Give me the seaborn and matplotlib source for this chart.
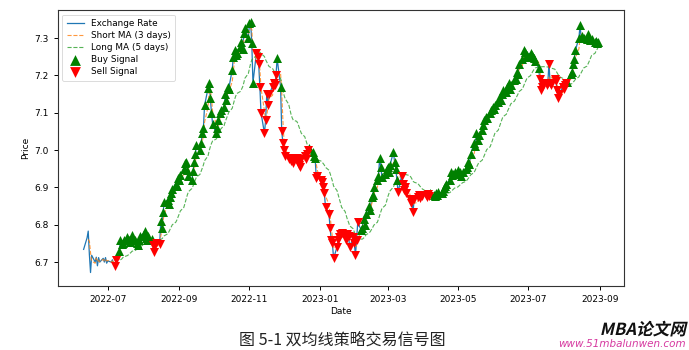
import matplotlib
matplotlib.use("Agg")
import matplotlib.pyplot as plt
import matplotlib.dates as mdates
from matplotlib.font_manager import FontProperties
from matplotlib.patches import PathPatch
from matplotlib.textpath import TextPath
from matplotlib.transforms import Affine2D
import pandas as pd
import seaborn as sns

# Daily closing exchange rate, one list per month (business days)
rate_2022_06 = [6.734, 6.765, 6.783, 6.720, 6.672, 6.718, 6.700, 6.713, 6.690, 6.712,
                6.700, 6.710, 6.700, 6.712, 6.697]
rate_2022_07 = [6.703, 6.700, 6.706, 6.695, 6.689, 6.705, 6.730, 6.758, 6.748, 6.752,
                6.760, 6.767, 6.758, 6.755, 6.762, 6.772, 6.760, 6.750, 6.745, 6.758,
                6.770]
rate_2022_08 = [6.776, 6.783, 6.765, 6.758, 6.770, 6.762, 6.745, 6.726, 6.745, 6.752,
                6.748, 6.810, 6.790, 6.835, 6.860, 6.866, 6.855, 6.875, 6.884, 6.895,
                6.910, 6.905, 6.925]
rate_2022_09 = [6.920, 6.933, 6.950, 6.965, 6.968, 6.946, 6.930, 6.920, 6.945, 6.968,
                6.990, 7.013, 7.000, 7.018, 7.045, 7.060, 7.120, 7.166, 7.180, 7.140,
                7.100, 7.070]
rate_2022_10 = [7.045, 7.060, 7.080, 7.100, 7.107, 7.115, 7.150, 7.134, 7.170, 7.165,
                7.215, 7.250, 7.268, 7.255, 7.260, 7.275, 7.290, 7.270, 7.313, 7.327,
                7.300]
rate_2022_11 = [7.340, 7.343, 7.287, 7.180, 7.260, 7.250, 7.230, 7.170, 7.100, 7.045,
                7.080, 7.150, 7.120, 7.150, 7.170, 7.180, 7.175, 7.200, 7.246, 7.170,
                7.050, 7.020]
rate_2022_12 = [7.000, 6.985, 6.975, 6.980, 6.970, 6.975, 6.965, 6.980, 6.970, 6.960,
                6.955, 6.975, 6.985, 6.975, 6.990, 7.000, 7.005, 6.995, 6.985, 6.978,
                6.925, 6.930]
rate_2023_01 = [6.920, 6.915, 6.900, 6.885, 6.847, 6.830, 6.790, 6.760, 6.750, 6.710,
                6.740, 6.758, 6.767, 6.775, 6.777, 6.770, 6.760, 6.775, 6.770, 6.740,
                6.767, 6.750]
rate_2023_02 = [6.718, 6.760, 6.807, 6.785, 6.790, 6.815, 6.800, 6.830, 6.850, 6.840,
                6.874, 6.880, 6.900, 6.920, 6.930, 6.978, 6.955, 6.927, 6.935, 6.950]
rate_2023_03 = [6.955, 6.940, 6.960, 6.995, 6.967, 6.950, 6.920, 6.887, 6.930, 6.910,
                6.892, 6.900, 6.885, 6.870, 6.858, 6.870, 6.834, 6.870, 6.874, 6.880,
                6.872, 6.880, 6.876]
rate_2023_04 = [6.880, 6.875, 6.882, 6.878, 6.885, 6.880, 6.876, 6.884, 6.880, 6.887,
                6.885, 6.890, 6.898, 6.905, 6.910, 6.920, 6.940, 6.932, 6.935, 6.940]
rate_2023_05 = [6.946, 6.935, 6.940, 6.930, 6.940, 6.950, 6.955, 6.967, 6.962, 6.990,
                7.018, 7.010, 7.045, 7.027, 7.040, 7.055, 7.067, 7.080, 7.090, 7.085,
                7.100, 7.107, 7.115]
rate_2023_06 = [7.110, 7.120, 7.130, 7.140, 7.135, 7.150, 7.160, 7.155, 7.170, 7.180,
                7.165, 7.175, 7.187, 7.190, 7.210, 7.205, 7.230, 7.245, 7.268, 7.262,
                7.250, 7.255]
rate_2023_07 = [7.260, 7.255, 7.250, 7.246, 7.240, 7.220, 7.190, 7.160, 7.170, 7.180,
                7.175, 7.180, 7.232, 7.180, 7.175, 7.190, 7.185, 7.160, 7.140, 7.150,
                7.170]
rate_2023_08 = [7.165, 7.175, 7.180, 7.182, 7.205, 7.210, 7.230, 7.245, 7.268, 7.300,
                7.335, 7.300, 7.305, 7.300, 7.298, 7.310, 7.300, 7.295, 7.298, 7.290,
                7.292, 7.288, 7.290]

first_day = "2022-06-10"
short_window = 3
long_window = 20

series_label = "Exchange Rate"
short_label = "Short MA (3 days)"
long_label = "Long MA (5 days)"
buy_label = "Buy Signal"
sell_label = "Sell Signal"
caption = "图 5-1 双均线策略交易信号图"
brand = "MBA论文网"
site = "www.51mbalunwen.com"

monthly = [rate_2022_06, rate_2022_07, rate_2022_08, rate_2022_09, rate_2022_10,
           rate_2022_11, rate_2022_12, rate_2023_01, rate_2023_02, rate_2023_03,
           rate_2023_04, rate_2023_05, rate_2023_06, rate_2023_07, rate_2023_08]
prices = [v for month in monthly for v in month]

df = pd.DataFrame({"Date": pd.bdate_range(first_day, periods=len(prices)),
                   "Price": prices})
df["Short"] = df["Price"].rolling(short_window).mean()
df["Long"] = df["Price"].rolling(long_window).mean()
ready = df["Long"].notna()
buys = df[ready & (df["Short"] > df["Long"])]
sells = df[ready & (df["Short"] <= df["Long"])]

plt.rcParams["font.family"] = ["DejaVu Sans"]
fig = plt.figure(figsize=(6.89, 3.5), dpi=100)
ax = fig.add_axes([0.084, 0.183, 0.822, 0.788])

sns.lineplot(data=df, x="Date", y="Price", ax=ax, color="#1f77b4",
             linewidth=0.9, label=series_label)
sns.lineplot(data=df, x="Date", y="Short", ax=ax, color="#ff7f0e",
             linewidth=0.8, linestyle="--", alpha=0.8, label=short_label)
sns.lineplot(data=df, x="Date", y="Long", ax=ax, color="#2ca02c",
             linewidth=0.8, linestyle="--", alpha=0.8, label=long_label)
sns.scatterplot(data=buys, x="Date", y="Price", ax=ax, marker="^", color="green",
                s=42, linewidth=0, label=buy_label, zorder=3)
sns.scatterplot(data=sells, x="Date", y="Price", ax=ax, marker="v", color="red",
                s=42, linewidth=0, label=sell_label, zorder=3)

ax.set_ylim(6.636, 7.375)
ax.xaxis.set_major_locator(mdates.MonthLocator(bymonth=[1, 3, 5, 7, 9, 11]))
ax.xaxis.set_major_formatter(mdates.DateFormatter("%Y-%m"))
ax.tick_params(labelsize=6.5, length=3, width=0.7)
ax.set_xlabel("Date", fontsize=6.5, labelpad=2)
ax.set_ylabel("Price", fontsize=6.5, labelpad=3)
for sp in ax.spines.values():
    sp.set_linewidth(0.8)
    sp.set_color("#333333")

leg = ax.legend(loc="upper left", fontsize=6.4, frameon=True, borderpad=0.5,
                labelspacing=0.35, handlelength=1.9, markerscale=1.2)
leg.get_frame().set_linewidth(0.6)

cjk = ["Noto Sans CJK SC", "DejaVu Sans"]
fig.text(0.497, 0.028, caption, ha="center", va="center", fontsize=11.5,
         family=cjk, color="#222222")

# Slanted bold brand mark in the lower right corner (CJK fonts have no italic)
brand_path = TextPath((0, 0), brand, size=12,
                      prop=FontProperties(family="Noto Sans CJK SC", weight="bold"))
bb = brand_path.get_extents()
brand_x = 6.86 * 72 - bb.width - 2
brand_y = (350 - 335) / 100 * 72
brand_tf = (Affine2D().skew_deg(13, 0).translate(brand_x, brand_y).scale(1 / 72)
            + fig.dpi_scale_trans)
fig.patches.append(PathPatch(brand_path, transform=brand_tf, facecolor="#111111",
                             edgecolor="none", figure=fig))
fig.text(0.996, 0.018, site, ha="right", va="center", fontsize=7.5,
         fontstyle="italic", color="#d63aa0")

fig.savefig("out.png", dpi=100)
